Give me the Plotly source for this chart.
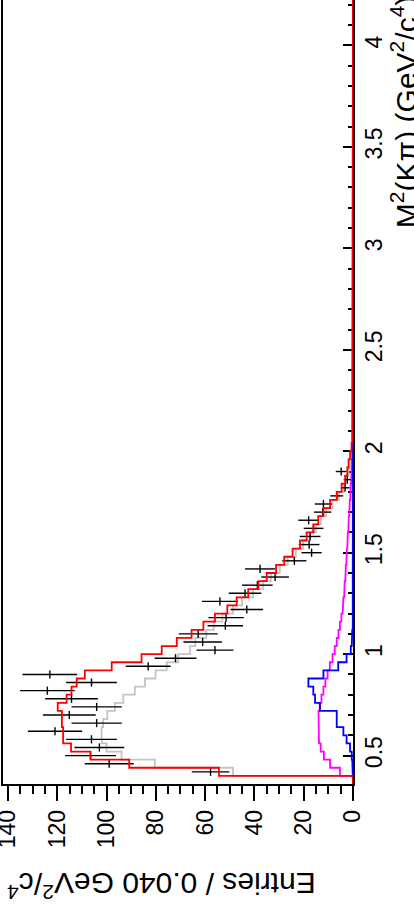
import plotly.graph_objects as go

# ---------------- data ----------------
BIN_START = 0.36   # GeV^2/c^4, lower edge of first bin
BIN_WIDTH = 0.04   # GeV^2/c^4
N_BINS = 97        # bins drawn up to the top of the frame

# data points: bin centres, entries, statistical errors
data_m2 = [0.42, 0.46, 0.50, 0.54, 0.58, 0.62, 0.66, 0.70, 0.74, 0.78,
           0.82, 0.86, 0.90, 0.94, 0.98, 1.02, 1.06, 1.10, 1.14, 1.18,
           1.22, 1.26, 1.30, 1.34, 1.38, 1.42, 1.46, 1.50, 1.54, 1.58,
           1.62, 1.66, 1.70, 1.74, 1.78, 1.82, 1.86, 1.90]
data_entries = [57.8, 98.9, 106.5, 102.9, 106.1, 120.9, 104.0, 115.1, 104.0, 114.2,
                124.0, 106.1, 123.0, 83.1, 72.0, 56.0, 61.0, 62.8, 51.8, 51.5,
                43.1, 54.0, 43.8, 38.8, 31.6, 37.7, 23.8, 16.8, 17.8, 17.4,
                16.0, 18.0, 12.3, 12.0, 6.6, 3.2, 2.3, 4.8]
data_err = [7.6, 9.9, 10.3, 10.1, 10.3, 11.0, 10.2, 10.7, 10.2, 10.7,
            11.1, 10.3, 11.1, 9.1, 8.5, 7.5, 7.8, 7.9, 7.2, 7.2,
            6.6, 7.3, 6.6, 6.2, 5.6, 6.1, 4.9, 4.1, 4.2, 4.2,
            4.0, 4.2, 3.5, 3.5, 2.6, 1.8, 1.5, 2.2]

# histogram contents per bin, starting at the 0.36 bin
fit_total = [0, 54.4, 90.8, 106.5, 114.4, 117.6, 117.6, 118.1, 118.1, 119.8,
             116.2, 114.2, 112.1, 108.8, 97.9, 85.8, 77.6, 71.5, 65.5, 60.7,
             56.0, 51.0, 47.2, 42.5, 38.4, 35.0, 31.2, 27.9, 24.5, 21.5,
             18.8, 16.1, 14.1, 12.0, 9.3, 6.6, 4.6, 3.2, 2.3, 1.8,
             1.2, 0.6, 0.2]
fit_grey = [0, 48.7, 80.4, 93.9, 100.0, 102.0, 102.0, 101.4, 99.7, 96.6,
            93.2, 88.5, 84.4, 80.1, 75.6, 70.9, 66.1, 64.0, 59.5, 56.5,
            53.0, 48.7, 45.0, 40.5, 36.5, 33.3, 29.7, 26.5, 23.2, 20.2,
            17.5, 14.9, 13.0, 10.9, 8.3, 5.7, 3.8, 2.6, 1.8, 1.4,
            0.9, 0.4, 0.1]
fit_magenta = [0, 5.3, 9.3, 11.8, 13.1, 13.8, 14.0, 14.1, 14.0, 13.5,
               12.8, 12.0, 11.2, 10.3, 9.4, 8.3, 7.4, 6.6, 5.9, 5.3,
               4.7, 4.2, 3.9, 3.6, 3.35, 3.1, 2.9, 2.7, 2.5, 2.3,
               2.1, 1.9, 1.7, 1.5, 1.3, 1.1, 0.9, 0.75, 0.6, 0.45,
               0.3, 0.15, 0.05]
fit_blue = [0, 0.1, 0.3, 0.5, 1.2, 2.6, 3.9, 6.6, 6.6, 13.4,
            15.4, 16.1, 18.1, 12.0, 6.0, 2.6, 0.9, 0.5, 0.3, 0.1]

m2_tickvals = [0.5, 1.0, 1.5, 2.0, 2.5, 3.0, 3.5, 4.0]
m2_ticktext = ["0.5", "1", "1.5", "2", "2.5", "3", "3.5", "4"]
entries_tickvals = [0, 20, 40, 60, 80, 100, 120, 140]

FONT = "Liberation Sans, Arial, Helvetica, sans-serif"


def step_xy(vals):
    vals = list(vals) + [0.0] * (N_BINS - len(vals))
    xs, ys = [], []
    for i, v in enumerate(vals):
        lo = BIN_START + i * BIN_WIDTH
        xs += [v, v]
        ys += [lo, lo + BIN_WIDTH]
    return xs, ys


fig = go.Figure()

for vals, col in [(fit_grey, "#c4c4c4"), (fit_magenta, "#ff00ff"),
                  (fit_blue, "#0000ff")]:
    xs, ys = step_xy(vals)
    fig.add_trace(go.Scatter(x=xs, y=ys, mode="lines",
                             line=dict(color=col, width=1.8),
                             hoverinfo="skip"))

fig.add_trace(go.Scatter(
    x=data_entries, y=data_m2, mode="markers",
    marker=dict(size=2, color="rgba(0,0,0,0)"),
    error_x=dict(type="data", array=data_err, color="black",
                 thickness=1.4, width=0),
    error_y=dict(type="constant", value=BIN_WIDTH / 2, color="black",
                 thickness=1.4, width=0),
    hoverinfo="skip"))

xs, ys = step_xy(fit_total)
fig.add_trace(go.Scatter(x=xs, y=ys, mode="lines",
                         line=dict(color="#ff0000", width=1.8),
                         hoverinfo="skip"))

fig.update_layout(
    width=414, height=905,
    margin=dict(l=3, r=61, t=0, b=121, autoexpand=False),
    plot_bgcolor="white", paper_bgcolor="white",
    showlegend=False,
    font=dict(family=FONT, color="black"),
    xaxis=dict(
        range=[142, 0], side="bottom", automargin=False,
        tickvals=entries_tickvals, ticklabeloverflow="allow",
        ticks="outside", ticklen=15, tickwidth=1.5, tickcolor="black",
        minor=dict(dtick=5, tick0=0, ticks="outside", ticklen=8,
                   tickwidth=1.5, tickcolor="black"),
        tickangle=-90, tickfont=dict(size=23, family=FONT),
        showline=True, linecolor="black", linewidth=1.5, mirror=False,
        showgrid=False, zeroline=False,
    ),
    yaxis=dict(
        range=[0.36, 4.224], side="right", automargin=False,
        tickvals=m2_tickvals, ticktext=m2_ticktext, ticklabeloverflow="allow",
        ticks="inside", ticklen=10, tickwidth=1.5, tickcolor="black",
        minor=dict(dtick=0.1, tick0=0, ticks="inside", ticklen=5,
                   tickwidth=1.5, tickcolor="black"),
        tickangle=-90, tickfont=dict(size=23, family=FONT),
        showline=True, linecolor="black", linewidth=1.5, mirror=True,
        showgrid=False, zeroline=False, layer="below traces",
    ),
    annotations=[
        dict(text="Entries / 0.040 GeV<sup>2</sup>/c<sup>4</sup>",
             xref="paper", yref="paper", x=0.451, y=-0.129,
             xanchor="center", yanchor="middle", textangle=180,
             showarrow=False, font=dict(size=30, family=FONT)),
        dict(text="M<sup>2</sup>(K\u03c0) (GeV<sup>2</sup>/c<sup>4</sup>)",
             xref="paper", yref="paper", x=1.146, y=0.7066,
             xanchor="center", yanchor="bottom", textangle=-90,
             showarrow=False, font=dict(size=30, family=FONT)),
    ],
)

fig.write_html(
    "out.html",
    config={"displayModeBar": False},
    post_script="document.body.style.margin='0';"
                "document.body.style.padding='0';"
                "document.body.style.overflow='hidden';",
)
